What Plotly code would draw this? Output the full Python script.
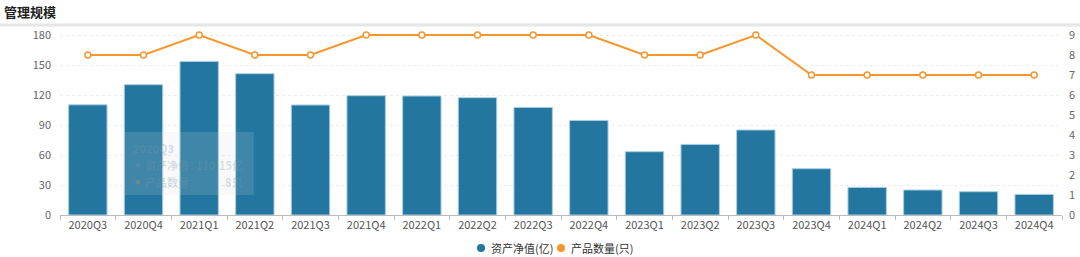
import plotly.graph_objects as go

categories = ["2020Q3", "2020Q4", "2021Q1", "2021Q2", "2021Q3", "2021Q4",
              "2022Q1", "2022Q2", "2022Q3", "2022Q4", "2023Q1", "2023Q2",
              "2023Q3", "2023Q4", "2024Q1", "2024Q2", "2024Q3", "2024Q4"]
net_assets = [110.15, 130.3, 153.6, 141.3, 110.0, 119.3,
              119.0, 117.3, 107.6, 94.6, 63.3, 70.6,
              85.0, 46.3, 27.6, 25.0, 23.3, 20.6]
product_counts = [8, 8, 9, 8, 8, 9, 9, 9, 9, 9, 8, 8, 9, 7, 7, 7, 7, 7]
left_ticks = [0, 30, 60, 90, 120, 150, 180]
right_ticks = [0, 1, 2, 3, 4, 5, 6, 7, 8, 9]
series_names = ["资产净值(亿)", "产品数量(只)"]

FONT = "Microsoft YaHei, Noto Sans CJK SC, sans-serif"
BAR_COLOR = "#23769f"
LINE_COLOR = "#f7962d"

W, H = 1080, 257
ML, MR, MT, MB = 60, 18, 33, 42
PW, PH = W - ML - MR, H - MT - MB


def px_x(px):
    return (px - ML) / PW


def px_y(py):
    return (H - MB - py) / PH


fig = go.Figure()
fig.add_trace(go.Bar(
    x=categories, y=net_assets, name=series_names[0], showlegend=False,
    marker=dict(color=BAR_COLOR, line=dict(color="#a9cde0", width=1)),
    width=0.69,
))
fig.add_trace(go.Scatter(
    x=categories, y=product_counts, name=series_names[1], yaxis="y2",
    mode="lines+markers", showlegend=False, cliponaxis=False,
    line=dict(color=LINE_COLOR, width=2),
    marker=dict(symbol="circle", size=6, color="#ffffff",
                line=dict(color=LINE_COLOR, width=1.5)),
))

shapes = [
    dict(type="line", xref="paper", yref="paper", x0=px_x(0), x1=px_x(W),
         y0=px_y(25), y1=px_y(25), line=dict(color="#e6e6e6", width=3)),
    # faded tooltip remnant
    dict(type="rect", xref="x", yref="y", x0=0.64, x1=2.98, y0=20, y1=83,
         fillcolor="rgba(215,215,215,0.16)", line=dict(width=0), layer="above"),
    dict(type="circle", xref="x", yref="y", xsizemode="pixel", ysizemode="pixel",
         xanchor=0.9, yanchor=50, x0=-2.5, x1=2.5, y0=-2.5, y1=2.5,
         fillcolor="rgba(120,150,175,0.3)", line=dict(width=0), layer="above"),
    dict(type="circle", xref="x", yref="y", xsizemode="pixel", ysizemode="pixel",
         xanchor=0.9, yanchor=33, x0=-2.5, x1=2.5, y0=-2.5, y1=2.5,
         fillcolor="rgba(190,150,110,0.3)", line=dict(width=0), layer="above"),
]
annotations = [
    dict(text="<b>管理规模</b>", xref="paper", yref="paper", x=px_x(2), y=px_y(12),
         xanchor="left", yanchor="middle", showarrow=False,
         font=dict(size=13, color="#222222", family=FONT)),
    dict(text="<b>2020Q3</b>", xref="x", yref="y", x=0.78, y=67,
         xanchor="left", showarrow=False,
         font=dict(size=11, color="rgba(120,150,175,0.3)")),
    dict(text="<b>资产净值：</b>", xref="x", yref="y", x=0.99, y=50,
         xanchor="left", showarrow=False,
         font=dict(size=11, color="rgba(120,150,175,0.28)")),
    dict(text="<b>110.15亿</b>", xref="x", yref="y", x=2.82, y=50,
         xanchor="right", showarrow=False,
         font=dict(size=11, color="rgba(120,150,175,0.28)")),
    dict(text="<b>产品数量：</b>", xref="x", yref="y", x=0.99, y=33,
         xanchor="left", showarrow=False,
         font=dict(size=11, color="rgba(120,150,175,0.28)")),
    dict(text="<b>8只</b>", xref="x", yref="y", x=2.82, y=33,
         xanchor="right", showarrow=False,
         font=dict(size=11, color="rgba(120,150,175,0.28)")),
]

# legend (round symbols, compact spacing)
legend_items = [(481, 489, BAR_COLOR, series_names[0]),
                (561, 569, LINE_COLOR, series_names[1])]
for cx, tx, col, name in legend_items:
    shapes.append(dict(type="circle", xref="paper", yref="paper",
                       xsizemode="pixel", ysizemode="pixel",
                       xanchor=px_x(cx), yanchor=px_y(248),
                       x0=-4, x1=4, y0=-4, y1=4,
                       fillcolor=col, line=dict(width=0)))
    annotations.append(dict(text=name, xref="paper", yref="paper",
                            x=px_x(tx), y=px_y(248), xanchor="left",
                            yanchor="middle", showarrow=False,
                            font=dict(size=11, color="#333333", family=FONT)))

fig.update_layout(
    width=W, height=H,
    margin=dict(l=ML, r=MR, t=MT, b=MB, autoexpand=False),
    paper_bgcolor="#ffffff", plot_bgcolor="#ffffff",
    font=dict(family=FONT, size=11, color="#666666"),
    showlegend=False,
    xaxis=dict(
        type="category", showgrid=False, showline=True, linecolor="#bbbbbb",
        ticks="outside", ticklen=4, tickcolor="#bbbbbb", tickson="boundaries",
        tickfont=dict(size=11, color="#555555"), range=[-0.5, 17.5],
    ),
    yaxis=dict(
        range=[0, 182], tickvals=left_ticks, showline=False,
        showgrid=True, gridcolor="#ececec", griddash="dot", zeroline=False,
        tickfont=dict(size=11, color="#666666"), ticks="", ticklabelstandoff=8,
    ),
    yaxis2=dict(
        range=[0, 9.1], tickvals=right_ticks, overlaying="y", side="right",
        showgrid=False, showline=False, zeroline=False,
        tickfont=dict(size=11, color="#666666"), ticklabelstandoff=6,
    ),
    shapes=shapes,
    annotations=annotations,
)

fig.write_html("out.html")
